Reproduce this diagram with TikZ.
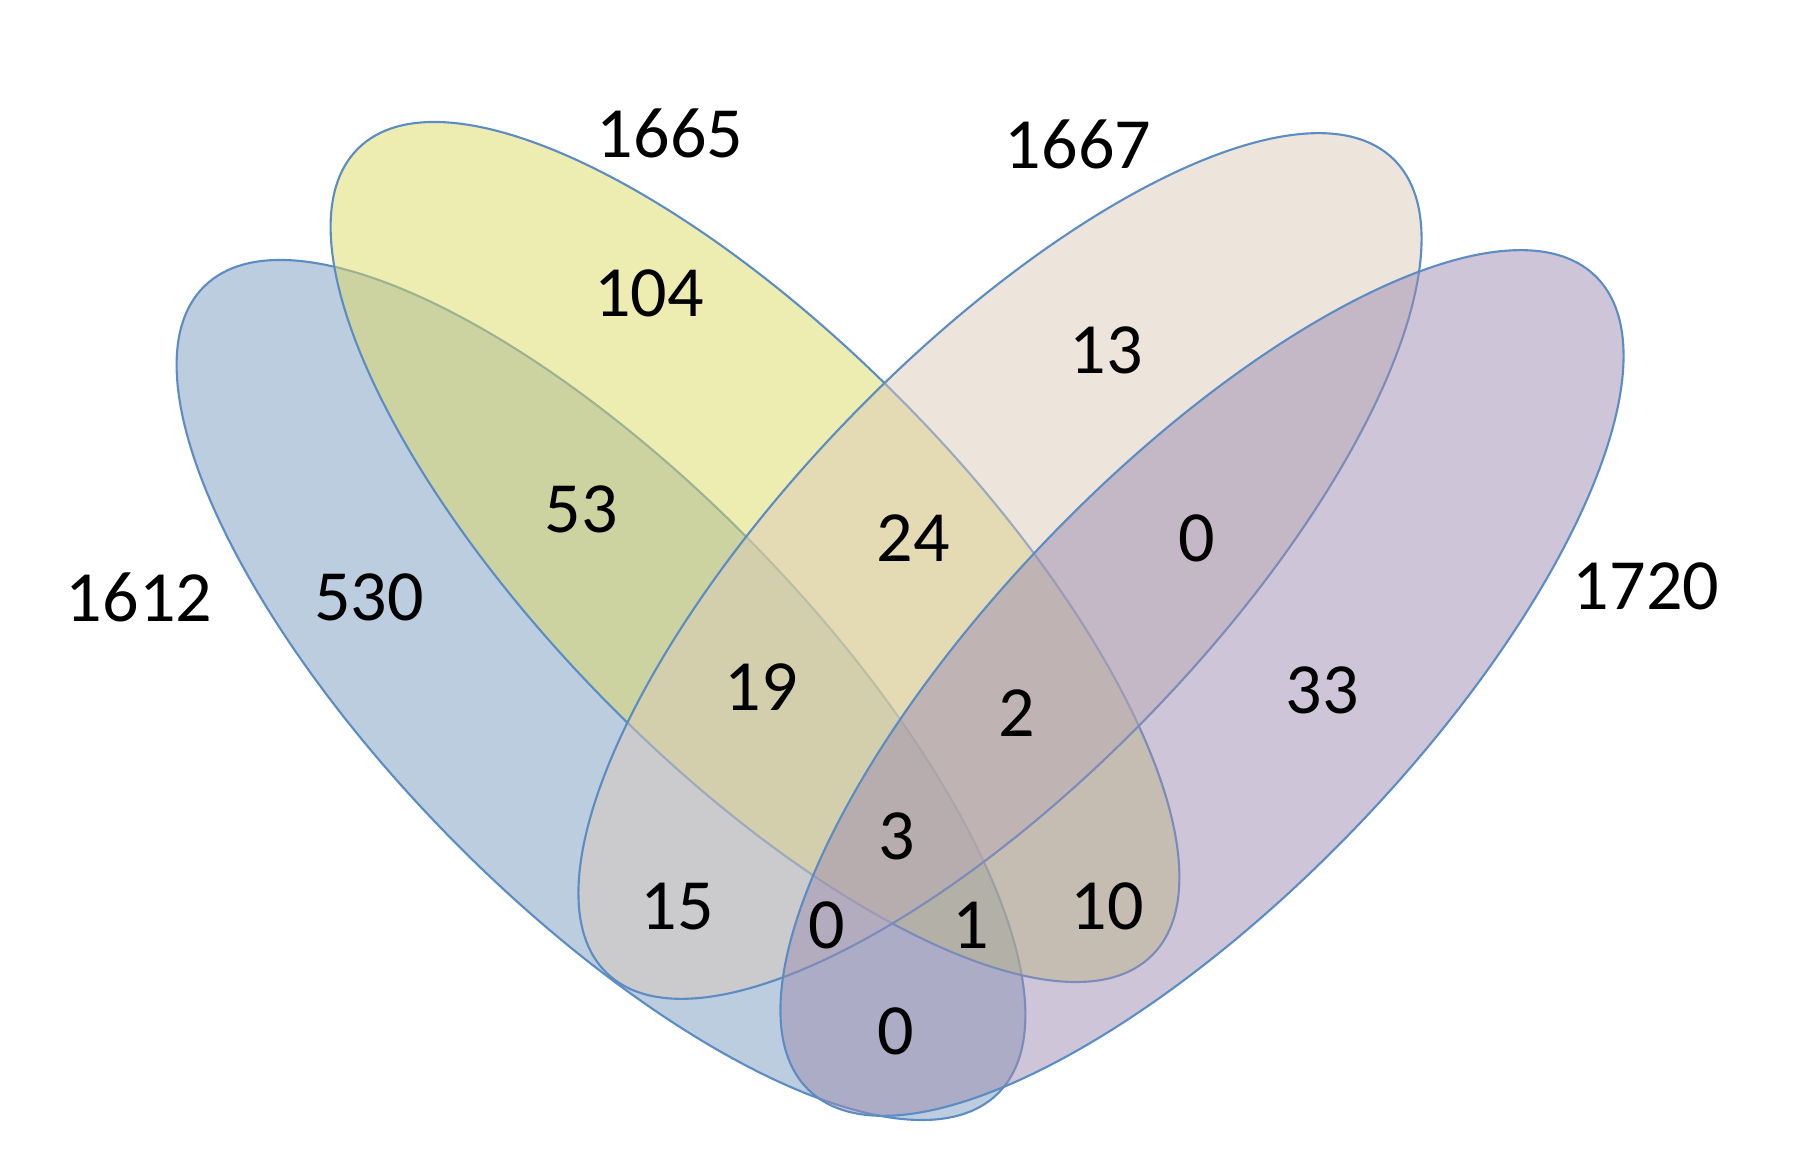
\documentclass[tikz,border=0pt]{standalone}
\usepackage{fontspec}
\setmainfont{Carlito}
\definecolor{edgeblue}{RGB}{91,140,196}
\definecolor{fillA}{RGB}{121,155,191}
\definecolor{fillB}{RGB}{221,219,99}
\definecolor{fillC}{RGB}{219,201,185}
\definecolor{fillD}{RGB}{157,141,177}
\begin{document}
\begin{tikzpicture}[x=0.01cm,y=-0.01cm,
  setshape/.style={draw=edgeblue, line width=0.6pt, fill opacity=0.5},
  lbl/.style={font=\fontsize{20.5}{24}\selectfont, inner sep=0pt, text=black}]
\useasboundingbox (0,0) rectangle (1796,1168);
% sets
\draw[setshape, fill=fillA, rotate around={-45.5:(601,690)}] (601,690) ellipse [x radius=566, y radius=211];
\draw[setshape, fill=fillB, rotate around={-45.5:(755,552)}] (755,552) ellipse [x radius=566, y radius=211];
\draw[setshape, fill=fillC, rotate around={46:(1000,566)}] (1000,566) ellipse [x radius=566, y radius=211];
\draw[setshape, fill=fillD, rotate around={46:(1202,683)}] (1202,683) ellipse [x radius=566, y radius=211];
% totals
\node[lbl] (tA) at (139,597) {1612};
\node[lbl] (tB) at (670,133) {1665};
\node[lbl] (tC) at (1078,144) {1667};
\node[lbl] (tD) at (1646,586) {1720};
% regions
\node[lbl] (rA) at (369,597) {530};
\node[lbl] (rB) at (649,293) {104};
\node[lbl] (rC) at (1106,350) {13};
\node[lbl] (rD) at (1322,690) {33};
\node[lbl] (rAB) at (581,509) {53};
\node[lbl] (rBC) at (913,538) {24};
\node[lbl] (rCD) at (1197,538) {0};
\node[lbl] (rABC) at (761,687) {19};
\node[lbl] (rBCD) at (1017,713) {2};
\node[lbl] (rABCD) at (897,836) {3};
\node[lbl] (rAC) at (677,907) {15};
\node[lbl] (rACD) at (827,925) {0};
\node[lbl] (rABD) at (971,925) {1};
\node[lbl] (rBD) at (1107,906) {10};
\node[lbl] (rAD) at (896,1031) {0};
\end{tikzpicture}
\end{document}
